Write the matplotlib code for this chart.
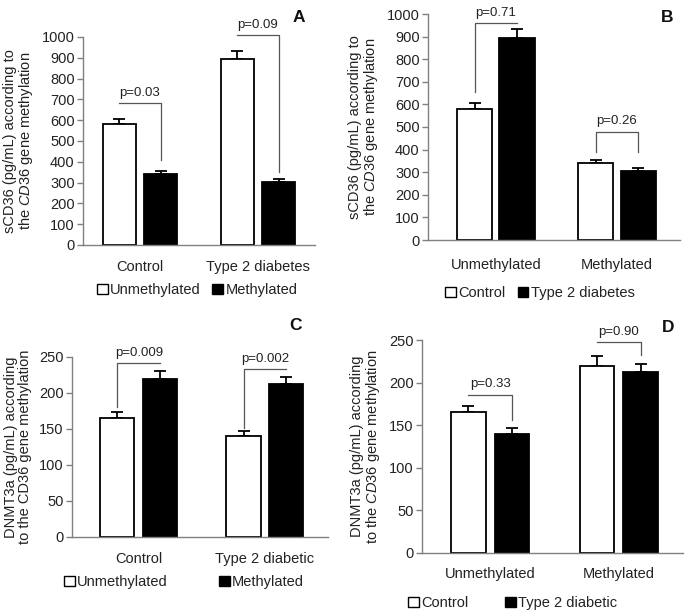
import matplotlib
matplotlib.use("Agg")
import matplotlib.pyplot as plt
from matplotlib.patches import Patch
import numpy as np

plt.rcParams['font.family'] = ['Liberation Sans', 'DejaVu Sans']
plt.rcParams['mathtext.fontset'] = 'custom'
plt.rcParams['mathtext.rm'] = 'Liberation Sans'
plt.rcParams['mathtext.it'] = 'Liberation Sans:italic'

TXT = '#222222'
SPINE = '#808080'

# ---------------- data ----------------
# Panel A: sCD36 by group, split by methylation
a_groups = ['Control', 'Type 2 diabetes']
a_unmeth = [580, 895]
a_unmeth_err = [28, 40]
a_meth = [340, 305]
a_meth_err = [15, 14]
a_pvals = ['p=0.03', 'p=0.09']

# Panel B: sCD36 by methylation, split by group
b_groups = ['Unmethylated', 'Methylated']
b_control = [580, 340]
b_control_err = [28, 15]
b_t2d = [895, 305]
b_t2d_err = [40, 14]
b_pvals = ['p=0.71', 'p=0.26']

# Panel C: DNMT3a by group, split by methylation
c_groups = ['Control', 'Type 2 diabetic']
c_unmeth = [165, 140]
c_unmeth_err = [8, 7]
c_meth = [220, 212]
c_meth_err = [11, 10]
c_pvals = ['p=0.009', 'p=0.002']

# Panel D: DNMT3a by methylation, split by group
d_groups = ['Unmethylated', 'Methylated']
d_control = [165, 220]
d_control_err = [8, 11]
d_t2d = [140, 212]
d_t2d_err = [7, 10]
d_pvals = ['p=0.33', 'p=0.90']

# bracket heights (top, left end, right end) in data units
a_brackets = [(683, 683, 409), (1010, 1010, 351)]
b_brackets = [(960, 655, 960), (480, 390, 390)]
c_brackets = [(242, 181, 242), (233, 151, 233)]
d_brackets = [(186, 186, 156), (248, 248, 232)]

W, H = 685, 612
fig = plt.figure(figsize=(W / 100, H / 100), dpi=100)


def make_ax(x0, x1, y0px, ytop_px):
    return fig.add_axes([x0 / W, (H - y0px) / H, (x1 - x0) / W, (y0px - ytop_px) / H])


def panel(ax, groups, s1, e1, s2, e2, ymax, ystep, xlim, width, off,
          pvals, brackets, ylabel, letter, letter_xy, xpad):
    x = np.arange(len(groups))
    ax.bar(x - off, s1, width, color='white', edgecolor='black', linewidth=1.3, zorder=2)
    ax.bar(x + off, s2, width, color='black', edgecolor='black', linewidth=1.3, zorder=2)
    for xs, vals, errs in ((x - off, s1, e1), (x + off, s2, e2)):
        ax.errorbar(xs, vals, yerr=[np.zeros(len(errs)), errs], fmt='none',
                    ecolor='black', elinewidth=1.3, capsize=4, capthick=1.3, zorder=1)
    ax.set_xlim(*xlim)
    ax.set_ylim(0, ymax)
    ax.set_yticks(np.arange(0, ymax + 1, ystep))
    ax.set_xticks(x)
    ax.set_xticklabels(groups)
    for s in ('top', 'right'):
        ax.spines[s].set_visible(False)
    for s in ('left', 'bottom'):
        ax.spines[s].set_color(SPINE)
        ax.spines[s].set_linewidth(1.0)
    ax.tick_params(axis='y', direction='out', length=4, width=1, color=SPINE,
                   labelsize=10.5, labelcolor=TXT, pad=2)
    ax.tick_params(axis='x', length=0, labelsize=10.5, labelcolor=TXT, pad=xpad)
    ax.set_ylabel(ylabel, fontsize=10.5, color=TXT, linespacing=1.0, labelpad=5)
    for i, (p, (ytop, yl, yr)) in enumerate(zip(pvals, brackets)):
        xl, xr = i - off, i + off
        ax.plot([xl, xl, xr, xr], [yl, ytop, ytop, yr], color='#555555', lw=0.9,
                clip_on=False, zorder=3)
        ax.annotate(p, xy=((xl + xr) / 2, ytop), xytext=(0, 3), textcoords='offset points',
                    ha='center', va='bottom', fontsize=9.5, color=TXT, annotation_clip=False)
    fig.text(letter_xy[0] / W, 1 - letter_xy[1] / H, letter, fontsize=12.5,
             fontweight='bold', ha='center', va='center', color='#111111')


def legend(labels, cx, cy, colsp):
    handles = [Patch(facecolor='white', edgecolor='black', linewidth=1.0),
               Patch(facecolor='black', edgecolor='black', linewidth=1.0)]
    fig.legend(handles, labels, loc='center', bbox_to_anchor=(cx / W, 1 - cy / H),
               ncol=2, frameon=False, handlelength=0.75, handleheight=0.75,
               handletextpad=0.15, columnspacing=colsp, fontsize=10.5,
               labelcolor=TXT, borderaxespad=0, borderpad=0)


ylab_sc = 'sCD36 (pg/mL) according to\nthe $\\it{CD36}$ gene methylation'
ylab_c = 'DNMT3a (pg/mL) according\nto the CD36 gene methylation'
ylab_d = 'DNMT3a (pg/mL) according\nto the $\\it{CD36}$ gene methylation'

axA = make_ax(83, 315, 245, 37)
panel(axA, a_groups, a_unmeth, a_unmeth_err, a_meth, a_meth_err, 1000, 100,
      (-0.483, 1.483), 0.28, 0.176, a_pvals, a_brackets, ylab_sc, 'A', (299, 17), 11)
legend(['Unmethylated', 'Methylated'], 197, 290, 0.8)

axB = make_ax(428, 680, 240, 14)
panel(axB, b_groups, b_control, b_control_err, b_t2d, b_t2d_err, 1000, 100,
      (-0.56, 1.52), 0.29, 0.175, b_pvals, b_brackets, ylab_sc, 'B', (667, 18), 13)
legend(['Control', 'Type 2 diabetes'], 540, 293, 0.8)

axC = make_ax(72, 328, 537, 357)
panel(axC, c_groups, c_unmeth, c_unmeth_err, c_meth, c_meth_err, 250, 50,
      (-0.53, 1.50), 0.27, 0.17, c_pvals, c_brackets, ylab_c, 'C', (295, 325), 11)
legend(['Unmethylated', 'Methylated'], 184, 582, 3.5)

axD = make_ax(422, 683, 553, 340)
panel(axD, d_groups, d_control, d_control_err, d_t2d, d_t2d_err, 250, 50,
      (-0.53, 1.50), 0.27, 0.17, d_pvals, d_brackets, ylab_d, 'D', (668, 328), 10)
legend(['Control', 'Type 2 diabetic'], 513, 603, 2.5)

fig.savefig('out.png', dpi=100, facecolor='white')
